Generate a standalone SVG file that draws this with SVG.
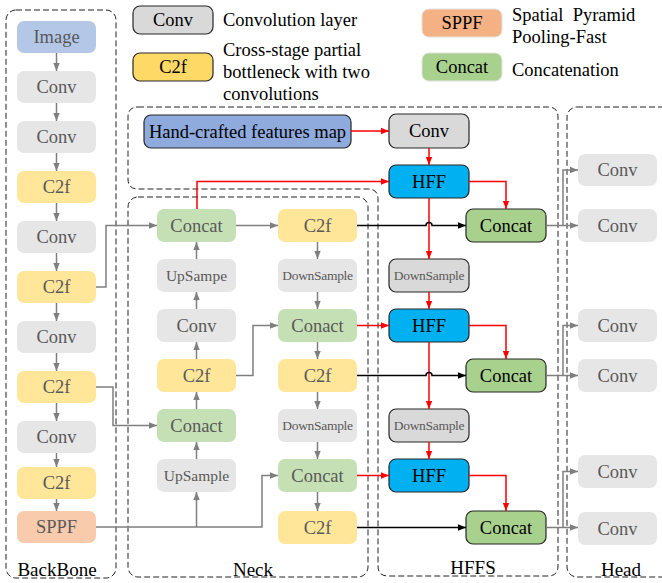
<svg xmlns="http://www.w3.org/2000/svg" width="662" height="583" viewBox="0 0 662 583" font-family="'Liberation Serif', 'Times New Roman', 'DejaVu Serif', serif">
<defs>
<marker id="ag" viewBox="0 0 8 8" refX="8" refY="4" markerWidth="8" markerHeight="8" markerUnits="userSpaceOnUse" orient="auto"><path d="M0,0.8 L8,4 L0,7.2 Z" fill="#7f7f7f"/></marker>
<marker id="ar" viewBox="0 0 8 8" refX="8" refY="4" markerWidth="8" markerHeight="8" markerUnits="userSpaceOnUse" orient="auto"><path d="M0,0.8 L8,4 L0,7.2 Z" fill="#ff0000"/></marker>
<marker id="ak" viewBox="0 0 8 8" refX="8" refY="4" markerWidth="8" markerHeight="8" markerUnits="userSpaceOnUse" orient="auto"><path d="M0,0.8 L8,4 L0,7.2 Z" fill="#000"/></marker>
</defs>
<style>
svg text{font-family:'Liberation Serif','Times New Roman','DejaVu Serif',serif;}
.region{fill:none;stroke:#222;stroke-width:1;stroke-dasharray:6 3;}
.rl{font-size:19px;fill:#000;text-anchor:middle;}
.n rect{rx:7px;ry:7px;}
.n text{font-size:18.5px;text-anchor:middle;dominant-baseline:central;fill:#595959;}
.lg{font-size:18.5px;fill:#000;}
.gray rect{fill:#e6e6e6;}
.yel rect{fill:#ffe699;}
.grn rect{fill:#c5e0b4;}
.blu rect{fill:#b4c7e7;}
.org rect{fill:#f8cbad;}
.dk rect{stroke:#262626;stroke-width:1.2;}
.dk text{fill:#000;}
.small text{font-size:13.5px;letter-spacing:-0.3px;}
.mid text{font-size:15.5px;}
.cg{fill:none;stroke:#7f7f7f;stroke-width:1.5;}
.cr{fill:none;stroke:#ff0000;stroke-width:1.5;}
.ck{fill:none;stroke:#000;stroke-width:1.5;}
</style>

<!-- regions -->
<g id="regions">
<rect class="region" x="6" y="10" width="110" height="568" rx="10"/>
<rect class="region" x="128" y="197" width="240" height="380" rx="10"/>
<path class="region" d="M138,107 H548 Q558,107 558,117 V566 Q558,576 548,576 H388 Q378,576 378,566 V199 Q378,189 368,189 H138 Q128,189 128,179 V117 Q128,107 138,107 Z"/>
<rect class="region" x="567" y="107" width="120" height="470" rx="10"/>
<text class="rl" x="57" y="576">BackBone</text>
<text class="rl" x="253" y="576">Neck</text>
<text class="rl" x="473" y="574">HFFS</text>
<text class="rl" x="621" y="576">Head</text>
</g>

<!-- legend -->
<g id="legend">
<g class="n gray dk"><rect x="133" y="6" width="80" height="28" style="fill:#d9d9d9"/><text x="173" y="20">Conv</text></g>
<text class="lg" x="223" y="26">Convolution layer</text>
<g class="n yel dk"><rect x="133" y="53" width="80" height="28" style="fill:#ffd966"/><text x="173" y="67">C2f</text></g>
<text class="lg" x="223" y="56">Cross-stage partial</text>
<text class="lg" x="223" y="78">bottleneck with two</text>
<text class="lg" x="223" y="100">convolutions</text>
<g class="n org"><rect x="422" y="9" width="80" height="28" style="fill:#f4b183;stroke:#e2e2e2"/><text x="462" y="23" style="fill:#000">SPPF</text></g>
<text class="lg" x="512" y="21" style="white-space:pre">Spatial  Pyramid</text>
<text class="lg" x="512" y="43">Pooling-Fast</text>
<g class="n grn"><rect x="422" y="53" width="80" height="28" style="fill:#a9d18e;stroke:#e2e2e2"/><text x="462" y="67" style="fill:#000">Concat</text></g>
<text class="lg" x="512" y="76">Concatenation</text>
</g>

<!-- backbone -->
<g id="bb-image" class="n blu"><rect x="17" y="21" width="79" height="32"/><text x="56.5" y="37">Image</text></g>
<g id="bb-conv1" class="n gray"><rect x="17" y="71" width="79" height="32"/><text x="56.5" y="87">Conv</text></g>
<g id="bb-conv2" class="n gray"><rect x="17" y="121" width="79" height="32"/><text x="56.5" y="137">Conv</text></g>
<g id="bb-c2f1" class="n yel"><rect x="17" y="171" width="79" height="32"/><text x="56.5" y="187">C2f</text></g>
<g id="bb-conv3" class="n gray"><rect x="17" y="221" width="79" height="32"/><text x="56.5" y="237">Conv</text></g>
<g id="bb-c2f2" class="n yel"><rect x="17" y="271" width="79" height="32"/><text x="56.5" y="287">C2f</text></g>
<g id="bb-conv4" class="n gray"><rect x="17" y="321" width="79" height="32"/><text x="56.5" y="337">Conv</text></g>
<g id="bb-c2f3" class="n yel"><rect x="17" y="371" width="79" height="32"/><text x="56.5" y="387">C2f</text></g>
<g id="bb-conv5" class="n gray"><rect x="17" y="421" width="79" height="32"/><text x="56.5" y="437">Conv</text></g>
<g id="bb-c2f4" class="n yel"><rect x="17" y="467" width="79" height="32"/><text x="56.5" y="483">C2f</text></g>
<g id="bb-sppf" class="n org"><rect x="17" y="511" width="79" height="32"/><text x="56.5" y="527">SPPF</text></g>

<!-- neck -->
<g id="nk-concat1" class="n grn"><rect x="157" y="209" width="79" height="33"/><text x="196.5" y="225.5">Concat</text></g>
<g id="nk-upsampe" class="n gray mid"><rect x="157" y="259" width="79" height="33"/><text x="196.5" y="275.5">UpSampe</text></g>
<g id="nk-conv" class="n gray"><rect x="157" y="309" width="79" height="33"/><text x="196.5" y="325.5">Conv</text></g>
<g id="nk-c2fa" class="n yel"><rect x="157" y="359" width="79" height="33"/><text x="196.5" y="375.5">C2f</text></g>
<g id="nk-conact1" class="n grn"><rect x="157" y="409" width="79" height="33"/><text x="196.5" y="425.5">Conact</text></g>
<g id="nk-upsample" class="n gray mid"><rect x="157" y="459" width="79" height="33"/><text x="196.5" y="475.5">UpSample</text></g>
<g id="nk-c2f1" class="n yel"><rect x="278" y="209" width="79" height="33"/><text x="317.5" y="225.5">C2f</text></g>
<g id="nk-down1" class="n gray small"><rect x="278" y="259" width="79" height="33"/><text x="317.5" y="275.5">DownSample</text></g>
<g id="nk-conact2" class="n grn"><rect x="278" y="309" width="79" height="33"/><text x="317.5" y="325.5">Conact</text></g>
<g id="nk-c2f2" class="n yel"><rect x="278" y="359" width="79" height="33"/><text x="317.5" y="375.5">C2f</text></g>
<g id="nk-down2" class="n gray small"><rect x="278" y="409" width="79" height="33"/><text x="317.5" y="425.5">DownSample</text></g>
<g id="nk-concat2" class="n grn"><rect x="278" y="459" width="79" height="33"/><text x="317.5" y="475.5">Concat</text></g>
<g id="nk-c2f3" class="n yel"><rect x="278" y="511" width="79" height="33"/><text x="317.5" y="527.5">C2f</text></g>

<!-- HFFS -->
<g id="hf-map" class="n dk"><rect x="144" y="115" width="207" height="33" style="fill:#8faadc"/><text x="247.5" y="131.5">Hand-crafted features map</text></g>
<g id="hf-conv" class="n dk"><rect x="389" y="114" width="80" height="34" style="fill:#d9d9d9"/><text x="429" y="131">Conv</text></g>
<g id="hf-hff1" class="n dk"><rect x="389" y="165" width="80" height="33" style="fill:#00b0f0"/><text x="429" y="181.5">HFF</text></g>
<g id="hf-down1" class="n dk small"><rect x="389" y="259" width="80" height="33" style="fill:#d9d9d9"/><text x="429" y="275.5" style="fill:#595959">DownSample</text></g>
<g id="hf-hff2" class="n dk"><rect x="389" y="309" width="80" height="33" style="fill:#00b0f0"/><text x="429" y="325.5">HFF</text></g>
<g id="hf-down2" class="n dk small"><rect x="389" y="409" width="80" height="33" style="fill:#d9d9d9"/><text x="429" y="425.5" style="fill:#595959">DownSample</text></g>
<g id="hf-hff3" class="n dk"><rect x="389" y="459" width="80" height="33" style="fill:#00b0f0"/><text x="429" y="475.5">HFF</text></g>
<g id="hf-concat1" class="n dk"><rect x="466" y="209" width="80" height="33" style="fill:#a9d18e"/><text x="506" y="225.5">Concat</text></g>
<g id="hf-concat2" class="n dk"><rect x="466" y="359" width="80" height="33" style="fill:#a9d18e"/><text x="506" y="375.5">Concat</text></g>
<g id="hf-concat3" class="n dk"><rect x="466" y="511" width="80" height="33" style="fill:#a9d18e"/><text x="506" y="527.5">Concat</text></g>

<!-- head -->
<g id="hd-conv1" class="n gray"><rect x="578" y="154" width="79" height="32"/><text x="617.5" y="170">Conv</text></g>
<g id="hd-conv2" class="n gray"><rect x="578" y="209" width="79" height="33"/><text x="617.5" y="225.5">Conv</text></g>
<g id="hd-conv3" class="n gray"><rect x="578" y="309" width="79" height="33"/><text x="617.5" y="325.5">Conv</text></g>
<g id="hd-conv4" class="n gray"><rect x="578" y="359" width="79" height="33"/><text x="617.5" y="375.5">Conv</text></g>
<g id="hd-conv5" class="n gray"><rect x="578" y="455" width="79" height="33"/><text x="617.5" y="471.5">Conv</text></g>
<g id="hd-conv6" class="n gray"><rect x="578" y="512" width="79" height="33"/><text x="617.5" y="528.5">Conv</text></g>

<!-- connectors -->
<g id="connectors">
<g class="cg" marker-end="url(#ag)">
<path d="M56.5,53 V71"/><path d="M56.5,103 V121"/><path d="M56.5,153 V171"/><path d="M56.5,203 V221"/>
<path d="M56.5,253 V271"/><path d="M56.5,303 V321"/><path d="M56.5,353 V371"/><path d="M56.5,403 V421"/>
<path d="M56.5,453 V467"/><path d="M56.5,499 V511"/>
<path d="M196.5,459 V442"/><path d="M196.5,409 V392"/><path d="M196.5,359 V342"/><path d="M196.5,309 V292"/><path d="M196.5,259 V242"/>
<path d="M317.5,242 V259"/><path d="M317.5,292 V309"/><path d="M317.5,342 V359"/><path d="M317.5,392 V409"/><path d="M317.5,442 V459"/><path d="M317.5,492 V511"/>
<path d="M236,225.5 H278"/>
<path d="M236,375.5 H253 V325.5 H278"/>
<path d="M96,527 H262 V475.5 H278"/>
<path d="M196.5,527 V492"/>
<path d="M96,287 H106 V225.5 H157"/>
<path d="M96,387 H113 V425.5 H157"/>
<path d="M546,225.5 H578"/><path d="M563,225.5 V170 H578"/>
<path d="M546,375.5 H578"/><path d="M563,375.5 V325.5 H578"/>
<path d="M546,527.5 H578"/><path d="M563,527.5 V471.5 H578"/>
</g>
<g class="cr" marker-end="url(#ar)">
<path d="M351,131 H389"/>
<path d="M429,148 V165"/>
<path d="M197,209 V181.5 H389"/>
<path d="M469,181.5 H506 V209"/>
<path d="M429,198 V259"/>
<path d="M429,292 V309"/>
<path d="M357,325.5 H389"/>
<path d="M469,325.5 H506 V359"/>
<path d="M429,342 V409"/>
<path d="M429,442 V459"/>
<path d="M357,475.5 H389"/>
<path d="M469,475.5 H506 V511"/>
</g>
<g class="ck" marker-end="url(#ak)">
<path d="M357,225.5 H426 A3,3 0 0 1 432,225.5 H466"/>
<path d="M357,375.5 H426 A3,3 0 0 1 432,375.5 H466"/>
<path d="M357,527.5 H466"/>
</g>
</g>
</svg>
